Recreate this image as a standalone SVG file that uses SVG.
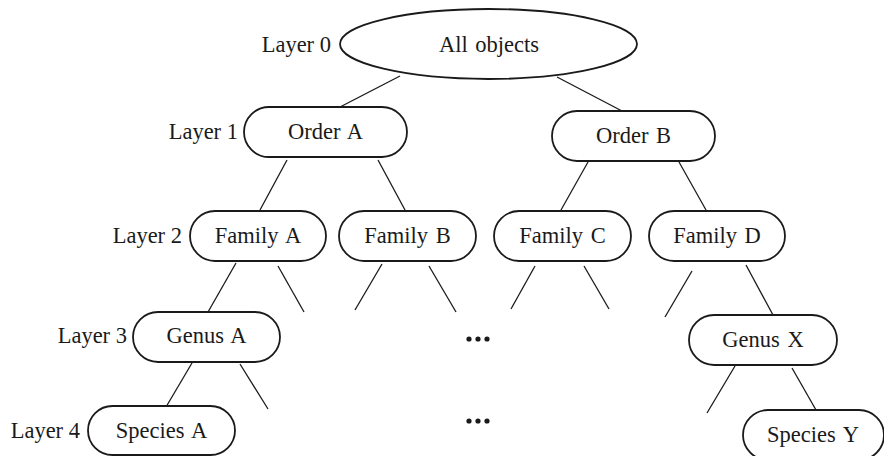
<svg xmlns="http://www.w3.org/2000/svg" width="884" height="456" viewBox="0 0 884 456">
  <style>
    .box { fill: #ffffff; stroke: #1a1a1a; stroke-width: 1.8; }
    .lbl { font-family: "Liberation Serif", "Times New Roman", serif; font-size: 22.5px; fill: #1a1a1a; text-anchor: middle; word-spacing: 2px; }
    .layer { font-family: "Liberation Serif", "Times New Roman", serif; font-size: 22.5px; fill: #1a1a1a; text-anchor: end; }
    .edge { stroke: #1a1a1a; stroke-width: 1.3; fill: none; }
    .dot { fill: #1a1a1a; }
  </style>
  <rect width="884" height="456" fill="#ffffff"/>

  <!-- layer captions -->
  <g id="layers">
    <text class="layer" x="331" y="52">Layer 0</text>
    <text class="layer" x="238" y="139">Layer 1</text>
    <text class="layer" x="182" y="243">Layer 2</text>
    <text class="layer" x="127" y="343">Layer 3</text>
    <text class="layer" x="80" y="438">Layer 4</text>
  </g>

  <!-- tree edges -->
  <g id="connectors">
    <line class="edge" x1="400" y1="76" x2="340" y2="107"/>
    <line class="edge" x1="557" y1="77" x2="622" y2="111"/>
    <line class="edge" x1="287" y1="160" x2="260" y2="210"/>
    <line class="edge" x1="378" y1="160" x2="405" y2="210"/>
    <line class="edge" x1="588" y1="162" x2="561" y2="210"/>
    <line class="edge" x1="679" y1="162" x2="706" y2="210"/>
    <line class="edge" x1="236" y1="263" x2="208" y2="312"/>
    <line class="edge" x1="278" y1="266" x2="304" y2="312"/>
    <line class="edge" x1="382" y1="264" x2="355" y2="310"/>
    <line class="edge" x1="429" y1="266" x2="456" y2="312"/>
    <line class="edge" x1="535" y1="266" x2="511" y2="309"/>
    <line class="edge" x1="584" y1="266" x2="609" y2="309"/>
    <line class="edge" x1="692" y1="271" x2="665" y2="317"/>
    <line class="edge" x1="746" y1="265" x2="773" y2="315"/>
    <line class="edge" x1="192" y1="363" x2="166" y2="407"/>
    <line class="edge" x1="240" y1="364" x2="268" y2="409"/>
    <line class="edge" x1="735" y1="366" x2="707" y2="413"/>
    <line class="edge" x1="792" y1="368" x2="816" y2="410"/>
  </g>

  <g id="all-objects">
    <ellipse class="box" cx="488.5" cy="44" rx="148.5" ry="35"/>
    <text class="lbl" x="489" y="52">All objects</text>
  </g>

  <g id="order-a">
    <rect class="box" x="244" y="107" width="163" height="50" rx="25"/>
    <text class="lbl" x="325.5" y="139">Order A</text>
  </g>
  <g id="order-b">
    <rect class="box" x="552" y="111" width="163" height="50" rx="25"/>
    <text class="lbl" x="633.5" y="143">Order B</text>
  </g>

  <g id="family-a">
    <rect class="box" x="190" y="211" width="136" height="50" rx="25"/>
    <text class="lbl" x="258" y="243">Family A</text>
  </g>
  <g id="family-b">
    <rect class="box" x="339" y="211" width="137" height="50" rx="25"/>
    <text class="lbl" x="407.5" y="243">Family B</text>
  </g>
  <g id="family-c">
    <rect class="box" x="494" y="211" width="137" height="50" rx="25"/>
    <text class="lbl" x="562.5" y="243">Family C</text>
  </g>
  <g id="family-d">
    <rect class="box" x="649" y="211" width="136" height="50" rx="25"/>
    <text class="lbl" x="717" y="243">Family D</text>
  </g>

  <g id="genus-a">
    <rect class="box" x="133" y="312" width="147" height="50" rx="25"/>
    <text class="lbl" x="206.5" y="343">Genus A</text>
  </g>
  <g id="genus-x">
    <rect class="box" x="689" y="315" width="148" height="50" rx="25"/>
    <text class="lbl" x="763" y="347">Genus X</text>
  </g>

  <g id="species-a">
    <rect class="box" x="88" y="406" width="147" height="49" rx="24.5"/>
    <text class="lbl" x="161.5" y="438">Species A</text>
  </g>
  <g id="species-y">
    <rect class="box" x="743" y="410" width="141" height="50" rx="25"/>
    <text class="lbl" x="813" y="442">Species Y</text>
  </g>

  <!-- elided siblings -->
  <g id="ellipsis">
    <circle class="dot" cx="469" cy="339" r="2.6"/>
    <circle class="dot" cx="478" cy="339" r="2.6"/>
    <circle class="dot" cx="487" cy="339" r="2.6"/>
    <circle class="dot" cx="469" cy="421" r="2.6"/>
    <circle class="dot" cx="478" cy="421" r="2.6"/>
    <circle class="dot" cx="487" cy="421" r="2.6"/>
  </g>
</svg>
